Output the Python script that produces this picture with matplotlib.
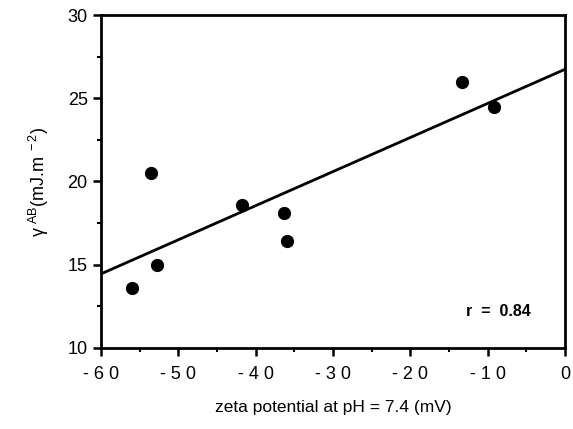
import numpy as np
import matplotlib
matplotlib.use('Agg')
import matplotlib.pyplot as plt
from matplotlib.ticker import MultipleLocator

# 数据
zeta = [-56.0, -53.5, -52.7, -41.7, -36.3, -36.0, -13.3, -9.2]
gamma_ab = [13.6, 20.5, 15.0, 18.6, 18.1, 16.4, 26.0, 24.5]
x_ticks = [-60, -50, -40, -30, -20, -10, 0]
y_ticks = [10, 15, 20, 25, 30]

plt.rcParams['font.family'] = ['Liberation Sans', 'DejaVu Sans']
plt.rcParams['mathtext.fontset'] = 'custom'
plt.rcParams['mathtext.rm'] = 'Liberation Sans'
plt.rcParams['mathtext.it'] = 'Liberation Sans'
plt.rcParams['mathtext.bf'] = 'Liberation Sans:bold'

# 线性拟合
k, b = np.polyfit(zeta, gamma_ab, 1)
r = np.corrcoef(zeta, gamma_ab)[0, 1]

fig = plt.figure(figsize=(5.73, 4.29), dpi=100)
ax = fig.add_axes([0.176, 0.189, 0.81, 0.776])

x_fit = np.linspace(-60, 0, 100)
ax.plot(x_fit, k * x_fit + b, color='black', linewidth=2, zorder=3)
ax.plot(zeta, gamma_ab, 'o', color='black', markersize=8.5, zorder=4)

ax.set_xlim(-60, 0)
ax.set_ylim(10, 30)
ax.set_xticks(x_ticks)
ax.set_xticklabels(['- 6 0', '- 5 0', '- 4 0', '- 3 0', '- 2 0', '- 1 0', '0'])
ax.set_yticks(y_ticks)
ax.xaxis.set_minor_locator(MultipleLocator(5))
ax.yaxis.set_minor_locator(MultipleLocator(2.5))
ax.tick_params(axis='both', which='major', direction='out', length=6, width=1.8, labelsize=13)
ax.tick_params(axis='both', which='minor', direction='out', length=3, width=1.5)
ax.tick_params(axis='x', pad=7)
for s in ax.spines.values():
    s.set_linewidth(2)

ax.text(-8.6, 12.2, f'r  =  {r:.2f}', fontsize=11.5, fontweight='bold', ha='center', va='center')

ax.set_xlabel('zeta potential at pH = 7.4 (mV)', fontsize=12.5, labelpad=12)
ax.set_ylabel(r'$\gamma^{\ AB}$(mJ.m$^{\ -2}$)', fontsize=13, labelpad=12)

fig.savefig('out.png', dpi=100)
